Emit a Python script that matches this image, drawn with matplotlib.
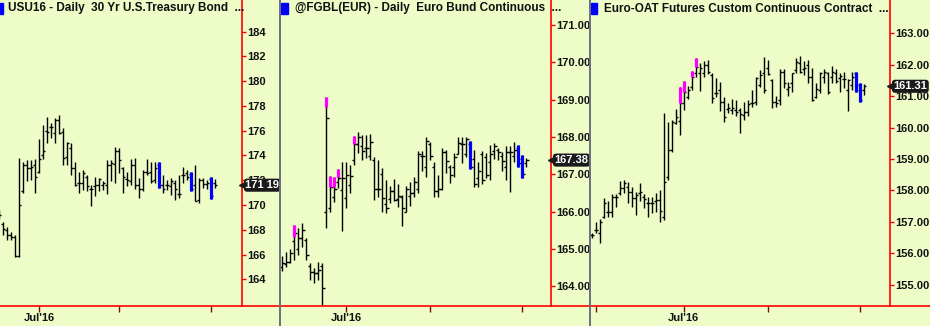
import numpy as np
import matplotlib
matplotlib.use('Agg')
import matplotlib.pyplot as plt
from matplotlib.lines import Line2D
from matplotlib.patches import Rectangle

plt.rcParams['font.family'] = ['Liberation Sans', 'DejaVu Sans']

BG = '#eefcc8'
W, H = 930, 326

# ---- USU16 daily, 30 Yr U.S. Treasury Bond (first bar cut at the left edge)
usu_open = [169.2, 168.5, 168.0, 167.6, 167.4, 165.9, 171.1, 173.2, 173.0, 173.2,
            172.7, 174.0, 176.0, 176.3, 175.8, 176.9, 175.9, 173.9, 174.6, 173.0,
            171.8, 171.8, 172.3, 171.3, 171.5, 171.6, 171.6, 171.6, 173.2, 173.3,
            174.4, 173.0, 172.1, 171.9, 173.2, 171.6, 171.3, 172.7, 172.7, 172.0,
            173.2, 171.6, 171.6, 171.5, 171.8, 170.9, 172.4, 172.6, 172.5, 171.6,
            170.4, 172.0, 171.7, 172.1, 171.8]
usu_high = [169.6, 168.6, 168.2, 167.8, 167.6, 173.8, 173.5, 173.6, 173.6, 173.7,
            175.3, 176.5, 177.1, 176.6, 177.0, 177.3, 176.2, 175.1, 175.0, 173.5,
            172.7, 172.8, 172.4, 171.6, 172.3, 172.2, 171.9, 173.6, 173.6, 174.7,
            174.6, 173.1, 172.7, 173.7, 173.8, 172.2, 172.8, 173.7, 173.5, 173.5,
            173.5, 172.4, 172.0, 172.2, 172.0, 172.4, 173.1, 172.8, 172.7, 173.2,
            172.2, 172.2, 172.0, 172.3, 172.1]
usu_low = [168.9, 167.6, 167.2, 167.2, 165.8, 165.8, 171.0, 171.9, 172.0, 171.0,
           172.6, 173.7, 175.0, 175.4, 175.0, 175.7, 173.2, 173.2, 172.4, 171.5,
           171.0, 171.2, 171.1, 169.9, 170.7, 171.1, 171.2, 170.9, 171.9, 171.8,
           172.6, 171.0, 171.5, 171.6, 171.3, 170.6, 171.1, 172.4, 171.8, 171.8,
           171.4, 171.0, 171.2, 170.8, 170.4, 170.6, 171.8, 172.0, 171.1, 170.3,
           170.2, 171.4, 171.3, 170.5, 171.4]
usu_close = [169.2, 168.1, 167.6, 167.4, 165.9, 170.0, 173.2, 173.0, 173.1, 172.3,
             173.7, 174.4, 175.9, 176.3, 176.9, 175.8, 173.8, 175.0, 173.0, 171.6,
             171.8, 172.6, 171.5, 171.3, 171.6, 172.1, 171.8, 173.2, 173.4, 174.4,
             173.6, 172.3, 172.0, 173.2, 171.6, 171.3, 172.7, 172.6, 171.9, 173.0,
             171.6, 171.3, 171.6, 171.9, 171.3, 170.9, 172.4, 172.3, 171.3, 170.3,
             172.0, 171.7, 171.8, 170.7, 171.6]
usu_paint_idx = [40, 48, 53]
usu_paint_top = [173.5, 172.7, 172.3]
usu_paint_bot = [171.4, 171.1, 170.5]
usu_paint_col = ['#0000ff', '#0000ff', '#0000ff']
usu_yticks = [164, 166, 168, 170, 172, 174, 176, 178, 180, 182, 184]

# ---- @FGBL(EUR) daily, Euro Bund continuous
fgbl_open = [164.51, 164.60, 164.65, 165.21, 165.00, 165.30, 165.25, 164.55, 164.38, 164.35,
             164.54, 165.99, 166.10, 166.40, 166.80, 166.57, 166.36, 166.71, 167.38, 167.81,
             167.75, 167.70, 167.50, 167.38, 166.60, 167.00, 166.20, 166.33, 166.55, 166.33,
             166.40, 166.00, 166.42, 166.50, 166.60, 167.50, 167.20, 167.80, 167.20, 166.55,
             166.60, 167.60, 167.20, 167.20, 167.55, 167.80, 167.55, 167.80, 167.40, 166.90,
             167.55, 167.45, 167.33, 167.62, 167.65, 167.50, 167.20, 167.60, 167.50, 167.70,
             167.40, 167.30]
fgbl_high = [164.81, 164.91, 164.99, 165.64, 165.56, 165.69, 165.29, 164.62, 164.49, 164.65,
             164.62, 169.07, 166.95, 166.92, 167.14, 167.33, 167.33, 167.25, 168.02, 168.13,
             168.05, 168.05, 168.08, 167.46, 167.38, 167.17, 166.84, 166.68, 166.87, 166.74,
             166.44, 166.68, 166.79, 166.92, 167.62, 167.62, 168.00, 167.86, 167.33, 166.98,
             167.70, 167.65, 167.25, 167.57, 168.00, 168.00, 168.00, 167.89, 167.65, 167.33,
             167.62, 167.57, 167.78, 167.84, 167.70, 167.60, 167.76, 167.76, 167.86, 167.78,
             167.51, 167.43]
fgbl_low = [164.40, 164.51, 164.62, 164.70, 164.83, 165.05, 164.70, 164.16, 164.08, 164.16,
            163.49, 165.56, 165.99, 166.25, 166.63, 165.48, 166.09, 166.50, 167.25, 167.57,
            167.38, 167.43, 167.38, 166.31, 166.39, 165.99, 165.96, 166.23, 166.28, 166.12,
            165.61, 165.99, 166.15, 166.39, 166.50, 167.09, 166.92, 167.38, 166.39, 166.39,
            166.58, 167.03, 166.76, 166.92, 167.54, 167.30, 167.46, 167.14, 166.66, 166.66,
            166.74, 166.90, 166.84, 167.41, 167.38, 167.09, 166.84, 166.52, 167.33, 167.19,
            166.90, 167.19]
fgbl_close = [164.62, 164.65, 164.89, 165.42, 165.30, 165.50, 164.85, 164.38, 164.35, 164.43,
              163.95, 168.51, 166.66, 166.60, 166.90, 166.89, 166.98, 166.95, 167.81, 168.00,
              167.62, 167.70, 167.86, 166.60, 166.60, 166.36, 166.10, 166.55, 166.30, 166.42,
              166.10, 166.60, 166.50, 166.80, 167.55, 167.48, 167.90, 167.50, 166.55, 166.60,
              167.60, 167.35, 166.97, 167.45, 167.85, 167.80, 167.94, 167.20, 166.75, 167.10,
              166.85, 166.98, 167.55, 167.75, 167.60, 167.35, 167.60, 167.60, 167.65, 167.30,
              167.00, 167.38]
fgbl_paint_idx = [3, 11, 12, 13, 14, 18, 47, 59, 60]
fgbl_paint_top = [165.64, 169.07, 166.95, 166.92, 167.14, 168.02, 167.89, 167.78, 167.51]
fgbl_paint_bot = [165.32, 168.80, 166.66, 166.66, 166.92, 167.81, 167.14, 167.19, 166.90]
fgbl_paint_col = ['#ff00ff'] * 6 + ['#0000ff'] * 3
fgbl_yticks = [164, 165, 166, 167, 168, 169, 170, 171]

# ---- Euro-OAT futures custom continuous contract
oat_open = [156.59, 156.73, 156.64, 157.17, 157.31, 157.33, 157.80, 157.91, 158.07, 158.12,
            157.96, 157.75, 157.93, 157.80, 157.59, 157.59, 157.65, 157.70, 157.17, 158.44,
            159.29, 160.13, 160.20, 160.77, 160.98, 161.30, 161.72, 161.72, 161.74, 161.98,
            161.67, 161.09, 161.19, 160.82, 160.58, 160.56, 160.56, 160.56, 160.40, 160.50,
            160.77, 160.82, 161.35, 161.72, 161.88, 161.51, 160.82, 160.87, 161.77, 161.21,
            161.40, 161.83, 162.06, 161.85, 161.98, 161.61, 160.98, 161.19, 161.61, 161.72,
            161.59, 161.72, 161.56, 161.53, 161.19, 161.35, 161.72, 161.35, 161.19]
oat_high = [156.65, 157.01, 157.09, 157.75, 157.67, 157.89, 157.89, 158.31, 158.33, 158.28,
            158.12, 157.96, 158.23, 157.89, 157.78, 157.80, 157.91, 158.00, 160.45, 160.19,
            160.24, 160.58, 161.30, 161.49, 161.32, 161.79, 162.22, 162.04, 162.12, 162.16,
            161.72, 161.56, 161.46, 160.98, 160.79, 160.89, 160.87, 160.61, 160.82, 160.87,
            161.19, 161.61, 161.83, 162.25, 162.16, 161.53, 161.00, 161.85, 161.85, 161.46,
            161.74, 162.20, 162.27, 162.12, 162.16, 161.88, 161.40, 161.77, 161.85, 161.77,
            161.95, 161.85, 161.72, 161.77, 161.53, 161.77, 161.77, 161.40, 161.38]
oat_low = [156.50, 156.64, 156.34, 157.12, 157.17, 157.17, 157.49, 157.86, 157.91, 157.61,
           157.49, 157.22, 157.65, 157.44, 157.17, 157.28, 157.33, 157.01, 157.06, 158.33,
           159.23, 160.11, 159.76, 160.56, 160.89, 161.19, 161.61, 161.17, 161.59, 161.69,
           160.77, 160.98, 160.53, 160.19, 160.45, 160.43, 160.37, 159.84, 160.24, 160.37,
           160.66, 160.71, 161.30, 161.11, 161.67, 160.61, 160.66, 160.71, 161.24, 161.00,
           161.14, 161.72, 161.74, 161.67, 161.40, 160.85, 160.93, 161.11, 161.40, 161.06,
           161.42, 161.40, 161.14, 161.24, 160.53, 161.19, 161.14, 160.82, 161.03]
oat_close = [156.59, 156.75, 157.01, 157.59, 157.31, 157.80, 157.78, 158.07, 158.23, 157.96,
             157.75, 157.86, 157.96, 157.72, 157.59, 157.59, 157.70, 157.36, 158.28, 159.29,
             160.19, 160.34, 160.77, 161.14, 161.19, 161.61, 161.93, 161.88, 161.98, 161.77,
             160.93, 161.09, 160.82, 160.32, 160.61, 160.61, 160.50, 160.43, 160.50, 160.75,
             160.77, 161.56, 161.67, 161.19, 161.70, 160.82, 160.77, 161.77, 161.40, 161.30,
             161.72, 162.09, 161.77, 161.88, 161.59, 160.87, 161.21, 161.72, 161.75, 161.14,
             161.77, 161.49, 161.64, 161.53, 161.51, 161.61, 161.19, 160.87, 161.31]
oat_paint_idx = [22, 23, 25, 26, 66, 67]
oat_paint_top = [161.30, 161.49, 161.79, 162.22, 161.77, 161.40]
oat_paint_bot = [160.77, 161.14, 161.61, 161.93, 161.14, 160.82]
oat_paint_col = ['#ff00ff'] * 4 + ['#0000ff'] * 2
oat_yticks = [155, 156, 157, 158, 159, 160, 161, 162, 163]


def draw_bars(ax, o, h, l, c, x0, p_idx, p_top, p_bot, p_col):
    x = np.arange(len(h)) + x0
    ax.vlines(x, l, h, color='black', lw=1.0)
    ax.hlines(o, x - 0.55, x, color='black', lw=1.0)
    ax.hlines(c, x, x + 0.55, color='black', lw=1.0)
    ax.vlines(x[p_idx], p_bot, p_top, colors=p_col, lw=2.3, zorder=3)


def style_axis(ax, xlim, ylim, yticks, yfmt, mticks, mlabels):
    ax.set_facecolor(BG)
    ax.set_xlim(xlim)
    ax.set_ylim(ylim)
    ax.spines['top'].set_visible(False)
    ax.spines['left'].set_visible(False)
    ax.spines['right'].set_color('red')
    ax.spines['bottom'].set_color('red')
    ax.spines['right'].set_linewidth(1.2)
    ax.spines['bottom'].set_linewidth(1.2)
    ax.yaxis.tick_right()
    ax.set_yticks(yticks)
    ax.set_yticklabels([yfmt.format(v) for v in yticks])
    ax.tick_params(axis='y', colors='red', labelcolor='#111111', length=3,
                   width=1, pad=1, labelsize=8)
    ax.set_xticks(mticks)
    ax.set_xticklabels(mlabels)
    ax.tick_params(axis='x', colors='#7a1010', labelcolor='#111111', length=4,
                   width=1, pad=1, labelsize=8)
    for t in ax.get_yticklabels() + ax.get_xticklabels():
        t.set_fontweight('bold')


def last_label(ax, value, text):
    tr = ax.get_yaxis_transform()
    ax.plot([1.0], [value], marker='<', ms=5, color='#1a1a1a', transform=tr,
            clip_on=False, zorder=5)
    ax.annotate(text, xy=(1.0, value), xycoords=tr, xytext=(2.5, 0),
                textcoords='offset points', ha='left', va='center',
                color='white', fontsize=8, fontweight='bold', zorder=6,
                bbox=dict(boxstyle='round,pad=0.14,rounding_size=0.3',
                          fc='#1a1a1a', ec='none'))


fig = plt.figure(figsize=(W / 100, H / 100), dpi=100, facecolor=BG)
bot = 20 / H
hgt = 306 / H

ax1 = fig.add_axes([0, bot, 242 / W, hgt])
ax2 = fig.add_axes([280 / W, bot, 271 / W, hgt])
ax3 = fig.add_axes([590 / W, bot, 300 / W, hgt])

draw_bars(ax1, usu_open, usu_high, usu_low, usu_close, -1,
          usu_paint_idx, usu_paint_top, usu_paint_bot, usu_paint_col)
style_axis(ax1, (-0.75, 59.75), (161.84, 186.56), usu_yticks, '{:d}',
           [9, 29, 52], ["Jul'16", '', ''])
last_label(ax1, usu_close[-1], '171 19')

draw_bars(ax2, fgbl_open, fgbl_high, fgbl_low, fgbl_close, 0,
          fgbl_paint_idx, fgbl_paint_top, fgbl_paint_bot, fgbl_paint_col)
style_axis(ax2, (-0.575, 67.175), (163.47, 171.67), fgbl_yticks, '{:.2f}',
           [16, 37, 60], ["Jul'16", '', ''])
last_label(ax2, fgbl_close[-1], '167.38')

draw_bars(ax3, oat_open, oat_high, oat_low, oat_close, 0,
          oat_paint_idx, oat_paint_top, oat_paint_bot, oat_paint_col)
style_axis(ax3, (-0.425, 74.575), (154.33, 164.05), oat_yticks, '{:.2f}',
           [1, 23, 44, 67], ['', "Jul'16", '', ''])
last_label(ax3, oat_close[-1], '161.31')

# bottom red line runs on under the price scale, grey separators between panels
for x_a, x_b in [(242, 279), (551, 589), (890, 930)]:
    fig.add_artist(Line2D([x_a / W, x_b / W], [bot, bot], color='red', lw=1.2,
                          transform=fig.transFigure))
for xs in [279.5, 589.5]:
    fig.add_artist(Line2D([xs / W, xs / W], [0, 1], color='#6c6f80', lw=1.4,
                          transform=fig.transFigure))

titles = [(0, 3, 8, 'USU16 - Daily  30 Yr U.S.Treasury Bond  ...'),
          (281, 7, 295, '@FGBL(EUR) - Daily  Euro Bund Continuous  ...'),
          (591, 6, 604, 'Euro-OAT Futures Custom Continuous Contract  ...')]
for sq_x, sq_w, tx, title in titles:
    fig.add_artist(Rectangle((sq_x / W, 1 - 14 / H), sq_w / W, 11 / H, color='#0000ff',
                             transform=fig.transFigure))
    fig.text(tx / W, 1 - 8.5 / H, title, ha='left', va='center', fontsize=8.5,
             fontweight='bold', color='#111111')

fig.savefig('out.png', dpi=100, facecolor=BG)
